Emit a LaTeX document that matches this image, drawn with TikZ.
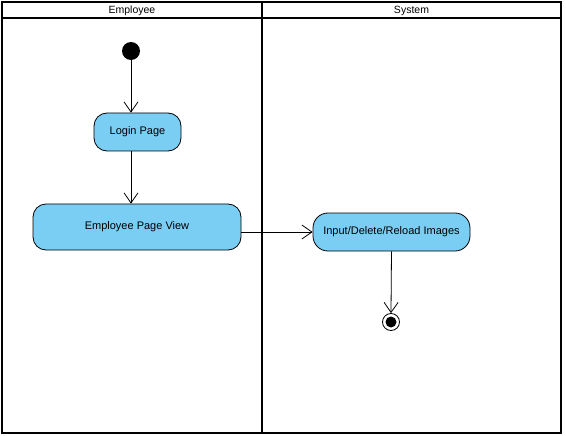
\documentclass[tikz,border=0pt]{standalone}
\usepackage{fontspec}
\setmainfont{Liberation Sans}
\usetikzlibrary{arrows.meta}
\definecolor{actfill}{HTML}{7ACEF4}
\tikzset{
  lane/.style={draw=black, line width=1.6pt},
  action/.style={draw=black, line width=0.8pt, fill=actfill, rounded corners=13pt,
    inner sep=0pt, font=\fontsize{11}{13}\selectfont, text=black},
  flow/.style={draw=black, line width=0.8pt, -{Straight Barb[length=10pt, width=14pt, line width=0.8pt]}},
  hdr/.style={font=\fontsize{10.5}{12}\selectfont, inner sep=0pt}
}
\begin{document}
\begin{tikzpicture}[x=1pt, y=-1pt]
  \useasboundingbox (0,0) rectangle (566,436);
  \fill[white] (0,0) rectangle (566,436);

  % swimlanes
  \draw[lane] (2,2) rectangle (561,433);
  \draw[lane] (2,18) -- (561,18);
  \draw[lane] (262,2) -- (262,433);
  \node[hdr] (hemp) at (132,11) {Employee};
  \node[hdr] (hsys) at (411.5,11) {System};

  % initial and final states
  \node[circle, fill=black, minimum size=18pt, inner sep=0pt] (start) at (131,51) {};
  \node[circle, draw=black, line width=0.8pt, fill=white, minimum size=17pt, inner sep=0pt] (stop) at (391,322) {};
  \node[circle, fill=black, minimum size=11pt, inner sep=0pt] (stopdot) at (391,322) {};

  % actions
  \node[action, minimum width=87pt, minimum height=38pt] (login) at (137.5,132) {Login Page};
  \node[action, minimum width=208pt, minimum height=46pt] (emp) at (137,227) {Employee Page View};
  \node[action, minimum width=157pt, minimum height=38pt, rounded corners=15pt] (imgs) at (391.5,232) {Input/Delete/Reload Images};

  % control flows
  \draw[flow] (start.south) -- (start.south |- login.north);
  \draw[flow] (start.south |- login.south) -- (start.south |- emp.north);
  \draw[flow] (emp.east |- imgs.west) -- (imgs.west);
  \draw[flow] (imgs.south) -- (stop.north);
\end{tikzpicture}
\end{document}
